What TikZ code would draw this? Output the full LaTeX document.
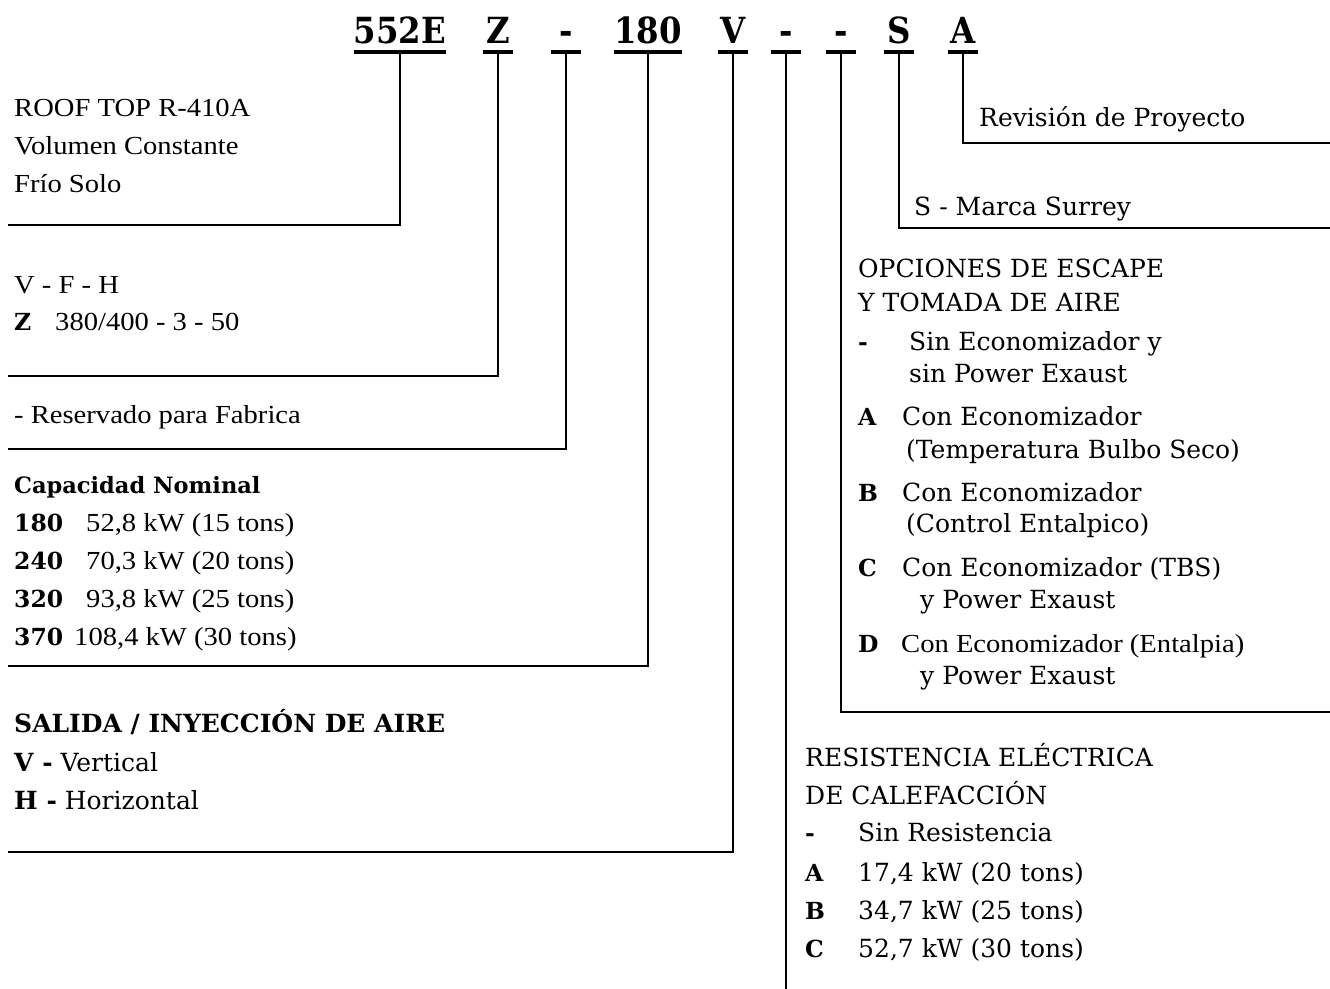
\documentclass[tikz,border=0pt]{standalone}
\usepackage{fontspec}
\setmainfont{DejaVu Serif}
\newfontfamily\narrowfont[FakeStretch=1.1]{Liberation Serif}
\newfontfamily\codefont[FakeStretch=0.9]{DejaVu Serif}

\begin{document}
\begin{tikzpicture}[
    x=1pt,y=-1pt,
    code/.style={font=\codefont\bfseries\fontsize{36}{40}\selectfont,inner sep=0pt,
      minimum width=30pt,anchor=base},
    uline/.style={line width=4.5pt},
    brk/.style={line width=2.6pt,line join=miter},
    wide/.style={font=\fontsize{25}{30}\selectfont,inner sep=0pt,anchor=base west},
    narrow/.style={font=\narrowfont\fontsize{26}{30}\selectfont,inner sep=0pt,anchor=base west},
    tag/.style={font=\bfseries\fontsize{23.5}{27}\selectfont,inner sep=0pt,anchor=base west}
  ]
    \useasboundingbox (0,0) rectangle (1330,988);

    % model code
    \node[code] (c552E) at (400,43) {552E};
    \node[code] (cZ) at (498,43) {Z};
    \node[code] (cDA) at (566,43) {-};
    \node[code] (c180) at (648,43) {180};
    \node[code] (cV) at (733,43) {V};
    \node[code] (cDB) at (786,43) {-};
    \node[code] (cDC) at (841,43) {-};
    \node[code] (cS) at (899,43) {S};
    \node[code] (cA) at (963,43) {A};
    \foreach \c in {c552E,cZ,cDA,c180,cV,cDB,cDC,cS,cA}
      \draw[uline] ([yshift=-9pt]\c.base west) -- ([yshift=-9pt]\c.base east);

    \coordinate (e552E) at (8,225);
    \coordinate (eZ) at (8,376);
    \coordinate (eDA) at (8,449);
    \coordinate (e180) at (8,666);
    \coordinate (eV) at (8,852);
    \coordinate (eDB) at (786,992);
    \coordinate (eDC) at (1332,712);
    \coordinate (eS) at (1332,228);
    \coordinate (eA) at (1332,143);

    \draw[brk] ([yshift=-9pt]c552E.base) |- (e552E);
    \draw[brk] ([yshift=-9pt]cZ.base) |- (eZ);
    \draw[brk] ([yshift=-9pt]cDA.base) |- (eDA);
    \draw[brk] ([yshift=-9pt]c180.base) |- (e180);
    \draw[brk] ([yshift=-9pt]cV.base) |- (eV);
    \draw[brk] ([yshift=-9pt]cDB.base) -- (eDB);
    \draw[brk] ([yshift=-9pt]cDC.base) |- (eDC);
    \draw[brk] ([yshift=-9pt]cS.base) |- (eS);
    \draw[brk] ([yshift=-9pt]cA.base) |- (eA);

    % left column
    \node[narrow] (roof) at (14,116) {ROOF TOP R-410A};
    \node[narrow] (vol) at (14,154) {Volumen Constante};
    \node[narrow] (frio) at (14,192) {Frío Solo};

    \node[narrow] (vfh) at (14,293) {V - F - H};
    \node[tag] (zt) at (14,330) {Z};
    \node[narrow] (zv) at (55,330) {380/400 - 3 - 50};

    \node[narrow] (res) at (14,423) {- Reservado para Fabrica};

    \node[font=\bfseries\fontsize{22.5}{26}\selectfont,inner sep=0pt,anchor=base west]
      (cap) at (14,493) {Capacidad Nominal};
    \node[tag] (k180) at (14,531) {180};
    \node[narrow] (v180) at (86,531) {52,8 kW (15 tons)};
    \node[tag] (k240) at (14,569) {240};
    \node[narrow] (v240) at (86,569) {70,3 kW (20 tons)};
    \node[tag] (k320) at (14,607) {320};
    \node[narrow] (v320) at (86,607) {93,8 kW (25 tons)};
    \node[tag] (k370) at (14,645) {370};
    \node[narrow] (v370) at (74,645) {108,4 kW (30 tons)};

    \node[tag,font=\bfseries\fontsize{25}{30}\selectfont] (sal) at (14,732)
      {SALIDA / INYECCIÓN DE AIRE};
    \node[wide] (sv) at (14,771) {\textbf{V -} Vertical};
    \node[wide] (sh) at (14,809) {\textbf{H -} Horizontal};

    % right column
    \node[wide] (rev) at (979,126) {Revisión de Proyecto};
    \node[wide] (mar) at (914,215) {S - Marca Surrey};

    \node[wide] (opc1) at (858,277) {OPCIONES DE ESCAPE};
    \node[wide] (opc2) at (858,311) {Y TOMADA DE AIRE};
    \node[tag] (o0) at (858,350) {-};
    \node[wide] (o0a) at (909,350) {Sin Economizador y};
    \node[wide] (o0b) at (909,382) {sin Power Exaust};
    \node[tag] (oA) at (858,425) {A};
    \node[wide] (oAa) at (902,425) {Con Economizador};
    \node[wide] (oAb) at (906,458) {(Temperatura Bulbo Seco)};
    \node[tag] (oB) at (858,501) {B};
    \node[wide] (oBa) at (902,501) {Con Economizador};
    \node[wide] (oBb) at (906,532) {(Control Entalpico)};
    \node[tag] (oC) at (858,576) {C};
    \node[wide] (oCa) at (902,576) {Con Economizador (TBS)};
    \node[wide] (oCb) at (920,608) {y Power Exaust};
    \node[tag] (oD) at (858,652) {D};
    \node[narrow] (oDa) at (901,652) {Con Economizador (Entalpia)};
    \node[wide] (oDb) at (920,684) {y Power Exaust};

    \node[wide] (rs1) at (805,766) {RESISTENCIA ELÉCTRICA};
    \node[wide] (rs2) at (805,804) {DE CALEFACCIÓN};
    \node[tag] (r0) at (805,841) {-};
    \node[wide] (r0a) at (858,841) {Sin Resistencia};
    \node[tag] (rA) at (805,881) {A};
    \node[wide] (rAa) at (858,881) {17,4 kW (20 tons)};
    \node[tag] (rB) at (805,919) {B};
    \node[wide] (rBa) at (858,919) {34,7 kW (25 tons)};
    \node[tag] (rC) at (805,957) {C};
    \node[wide] (rCa) at (858,957) {52,7 kW (30 tons)};
\end{tikzpicture}
\end{document}
